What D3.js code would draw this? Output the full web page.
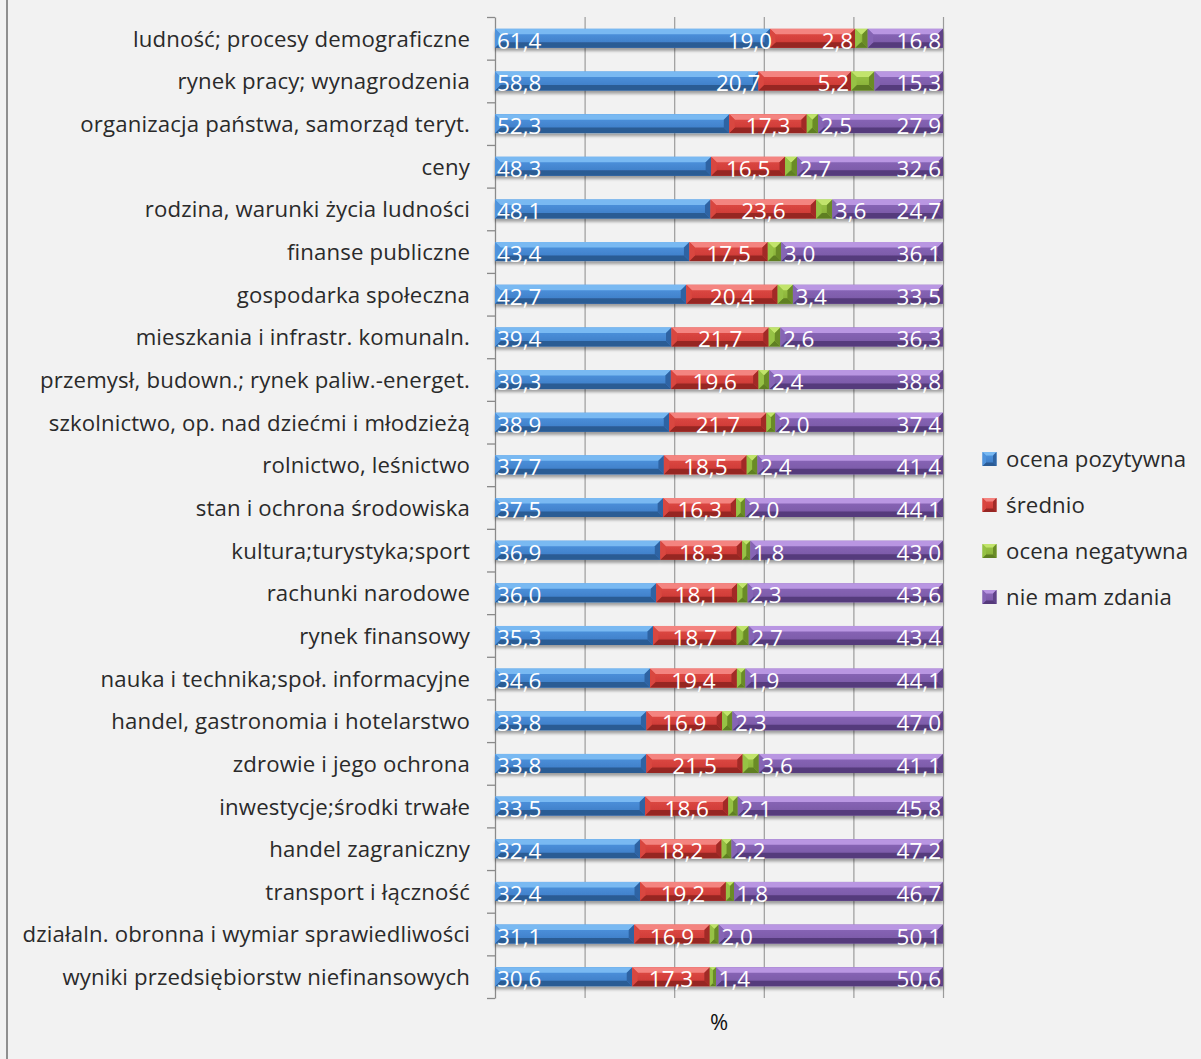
<!DOCTYPE html>
<html>
<head>
<meta charset="utf-8">
<script src="https://cdn.jsdelivr.net/npm/d3@7"></script>
<style>
  html, body { margin: 0; padding: 0; background: #f2f2f2; }
  svg { display: block; }
  text { font-family: "Open Sans", "Noto Sans", sans-serif; }
</style>
</head>
<body>
<svg id="chart" width="1201" height="1059"></svg>
<script>
// Ocena obszarów statystyki publicznej (%)
const categories = [
  "ludność; procesy demograficzne",
  "rynek pracy; wynagrodzenia",
  "organizacja państwa, samorząd teryt.",
  "ceny",
  "rodzina, warunki życia ludności",
  "finanse publiczne",
  "gospodarka społeczna",
  "mieszkania i infrastr. komunaln.",
  "przemysł, budown.; rynek paliw.-energet.",
  "szkolnictwo, op. nad dziećmi i młodzieżą",
  "rolnictwo, leśnictwo",
  "stan i ochrona środowiska",
  "kultura;turystyka;sport",
  "rachunki narodowe",
  "rynek finansowy",
  "nauka i technika;społ. informacyjne",
  "handel, gastronomia i hotelarstwo",
  "zdrowie i jego ochrona",
  "inwestycje;środki trwałe",
  "handel zagraniczny",
  "transport i łączność",
  "działaln. obronna i wymiar sprawiedliwości",
  "wyniki przedsiębiorstw niefinansowych"
];
const positive  = [61.4, 58.8, 52.3, 48.3, 48.1, 43.4, 42.7, 39.4, 39.3, 38.9, 37.7, 37.5, 36.9, 36.0, 35.3, 34.6, 33.8, 33.8, 33.5, 32.4, 32.4, 31.1, 30.6];
const average   = [19.0, 20.7, 17.3, 16.5, 23.6, 17.5, 20.4, 21.7, 19.6, 21.7, 18.5, 16.3, 18.3, 18.1, 18.7, 19.4, 16.9, 21.5, 18.6, 18.2, 19.2, 16.9, 17.3];
const negative  = [2.8, 5.2, 2.5, 2.7, 3.6, 3.0, 3.4, 2.6, 2.4, 2.0, 2.4, 2.0, 1.8, 2.3, 2.7, 1.9, 2.3, 3.6, 2.1, 2.2, 1.8, 2.0, 1.4];
const noOpinion = [16.8, 15.3, 27.9, 32.6, 24.7, 36.1, 33.5, 36.3, 38.8, 37.4, 41.4, 44.1, 43.0, 43.6, 43.4, 44.1, 47.0, 41.1, 45.8, 47.2, 46.7, 50.1, 50.6];
const seriesNames = ["ocena pozytywna", "średnio", "ocena negatywna", "nie mam zdania"];
const gridTicks = [20, 40, 60, 80, 100];
const axisTitle = "%";

const keys = ["pos", "avg", "neg", "none"];
const rows = categories.map((c, i) => ({
  cat: c, pos: positive[i], avg: average[i], neg: negative[i], none: noOpinion[i]
}));

// bevel shading per series: light top, face gradient, dark bottom, side facets
const palette = {
  pos:  { light: "#79b9f2", faceTop: "#5097e2", faceBot: "#3b79c2", dark: "#2b5b94", left: "#4f93dc", right: "#2f64a3" },
  avg:  { light: "#f48480", faceTop: "#e24d47", faceBot: "#c93632", dark: "#962623", left: "#d9463f", right: "#a22b28" },
  neg:  { light: "#c2e46c", faceTop: "#9cc748", faceBot: "#85ad35", dark: "#5e7f22", left: "#96c244", right: "#6a8c27" },
  none: { light: "#b996e2", faceTop: "#8c69bb", faceBot: "#7756a3", dark: "#553a7b", left: "#8665b5", right: "#5f4388" }
};

const W = 1201, H = 1059;
const plot = { left: 495, right: 943, top: 17, bottom: 998 };
const svg = d3.select("#chart");
const defs = svg.append("defs");

keys.forEach(k => {
  const g = defs.append("linearGradient").attr("id", "face-" + k)
    .attr("x1", 0).attr("y1", 0).attr("x2", 0).attr("y2", 1);
  g.append("stop").attr("offset", "0%").attr("stop-color", palette[k].faceTop);
  g.append("stop").attr("offset", "100%").attr("stop-color", palette[k].faceBot);
});

const shadow = defs.append("filter").attr("id", "barShadow")
  .attr("x", "-5%").attr("y", "-40%").attr("width", "110%").attr("height", "190%");
shadow.append("feGaussianBlur").attr("in", "SourceAlpha").attr("stdDeviation", 1.6).attr("result", "b");
shadow.append("feOffset").attr("in", "b").attr("dx", 0).attr("dy", 2.5).attr("result", "o");
shadow.append("feComponentTransfer").attr("in", "o").attr("result", "s")
  .append("feFuncA").attr("type", "linear").attr("slope", 0.35);
const merge = shadow.append("feMerge");
merge.append("feMergeNode").attr("in", "s");
merge.append("feMergeNode").attr("in", "SourceGraphic");

// frame line on the left edge
svg.append("line").attr("x1", 7).attr("x2", 7).attr("y1", 0).attr("y2", H)
  .attr("stroke", "#8f8f8f").attr("stroke-width", 2);

const x = d3.scaleLinear().domain([0, 100]).range([plot.left, plot.right]);
const y = d3.scaleBand().domain(categories).range([plot.top, plot.bottom])
  .paddingInner(0.555).paddingOuter(0.2775);

// vertical gridlines
const grid = svg.append("g").attr("transform", `translate(0,${plot.bottom})`)
  .call(d3.axisBottom(x).tickValues(gridTicks).tickSize(-(plot.bottom - plot.top)).tickFormat(""));
grid.select(".domain").remove();
grid.selectAll(".tick line").attr("stroke", "#9b9b9b").attr("stroke-width", 1.2);

// category axis: boundary ticks
const yEdge = d3.scaleLinear().domain([0, categories.length]).range([plot.top, plot.bottom]);
const edgeAxis = svg.append("g").attr("transform", `translate(${plot.left},0)`)
  .call(d3.axisLeft(yEdge).tickValues(d3.range(categories.length + 1)).tickSize(8).tickFormat("").tickSizeOuter(0));
edgeAxis.select(".domain").attr("stroke", "#8a8a8a").attr("stroke-width", 1.3);
edgeAxis.selectAll(".tick line").attr("stroke", "#8a8a8a").attr("stroke-width", 1.3);

// category labels
const catAxis = svg.append("g").attr("transform", `translate(${plot.left},0)`)
  .call(d3.axisLeft(y).tickSize(0).tickPadding(25));
catAxis.select(".domain").remove();
catAxis.selectAll(".tick text")
  .attr("font-size", 22.2).attr("letter-spacing", 0.15).attr("fill", "#2a2a2a")
  .attr("dy", "0.38em");

// stacked 100% bars
const stacked = d3.stack().keys(keys).offset(d3.stackOffsetExpand)(rows);
const xp = d3.scaleLinear().domain([0, 1]).range([plot.left, plot.right]);

function drawBevel(g, x0, x1, y0, h, k, bMax) {
  const c = palette[k];
  const y1 = y0 + h;
  const b = Math.max(0, Math.min(bMax, (x1 - x0) / 2, h / 2));
  g.append("rect").attr("x", x0).attr("y", y0).attr("width", Math.max(0, x1 - x0)).attr("height", h)
    .attr("fill", `url(#face-${k})`);
  const poly = (pts, fill) => g.append("polygon")
    .attr("points", pts.map(p => p.join(",")).join(" ")).attr("fill", fill);
  poly([[x0, y0], [x1, y0], [x1 - b, y0 + b], [x0 + b, y0 + b]], c.light);
  poly([[x0, y1], [x1, y1], [x1 - b, y1 - b], [x0 + b, y1 - b]], c.dark);
  poly([[x0, y0], [x0 + b, y0 + b], [x0 + b, y1 - b], [x0, y1]], c.left);
  poly([[x1, y0], [x1 - b, y0 + b], [x1 - b, y1 - b], [x1, y1]], c.right);
}

const barLayer = svg.append("g");
rows.forEach((r, i) => {
  const g = barLayer.append("g").attr("filter", "url(#barShadow)");
  stacked.forEach(s => {
    const d = s[i];
    drawBevel(g, xp(d[0]), xp(d[1]), y(r.cat), y.bandwidth(), s.key, 5.5);
  });
});

// value labels (Polish decimal comma)
const pl = d3.formatLocale({ decimal: ",", thousands: " ", grouping: [3], currency: ["", " zł"] });
const fmt = pl.format(".1f");
const labelLayer = svg.append("g");
rows.forEach((r, i) => {
  const base = y(r.cat) + y.bandwidth() / 2 + 10.5;
  const seg = {};
  stacked.forEach(s => { seg[s.key] = [xp(s[i][0]), xp(s[i][1])]; });
  const mk = k => labelLayer.append("text").attr("y", base).attr("font-size", 22.5)
    .attr("fill", "#ffffff").text(fmt(r[k]));
  const tPos = mk("pos"), tAvg = mk("avg"), tNeg = mk("neg"), tNone = mk("none");
  const w = t => t.node().getComputedTextLength();

  // no-opinion: right end; positive: left start
  const noneL = seg.none[1] - 2 - w(tNone);
  tNone.attr("x", noneL);
  tPos.attr("x", seg.pos[0] + 2);

  // negative: just past its segment, pulled back if it collides
  let negL = seg.neg[1] + 2.5;
  if (negL + w(tNeg) > noneL - 2) negL = seg.neg[0] - 2 - w(tNeg);
  tNeg.attr("x", negL);

  // average: centred, pulled back if it collides
  let avgL = (seg.avg[0] + seg.avg[1]) / 2 - w(tAvg) / 2;
  if (avgL + w(tAvg) > negL - 2) avgL = seg.avg[0] + 2 - w(tAvg);
  tAvg.attr("x", avgL);
});

// axis title
svg.append("text").attr("x", 719).attr("y", 1030).attr("text-anchor", "middle")
  .attr("font-size", 22).attr("fill", "#111").text(axisTitle);

// legend
const legend = svg.append("g");
seriesNames.forEach((name, i) => {
  const cy = 459 + i * 46;
  const g = legend.append("g");
  drawBevel(g, 982.5, 996.5, cy - 7, 14, keys[i], 3.5);
  legend.append("text").attr("x", 1006).attr("y", cy + 7.5)
    .attr("font-size", 22.2).attr("letter-spacing", 0.1).attr("fill", "#2a2a2a").text(name);
});
</script>
</body>
</html>
